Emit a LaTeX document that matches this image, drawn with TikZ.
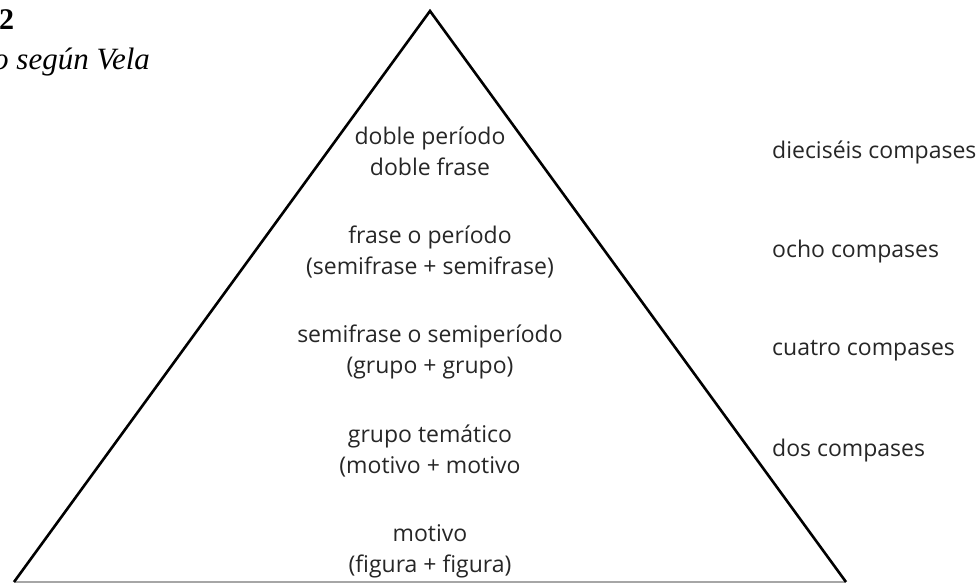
\documentclass[tikz,border=0pt]{standalone}
\usepackage{fontspec}
\setmainfont{Liberation Serif}
\newfontfamily\chalk{Open Sans}
\usetikzlibrary{positioning}

\begin{document}
\begin{tikzpicture}[x=1pt,y=-1pt,every node/.style={font=\chalk\fontsize{23}{31}\selectfont,text=black!85,inner sep=0pt}]
\useasboundingbox (0,0) rectangle (976,585);
% titulo, cortado por el borde
\node[font=\normalfont\bfseries\fontsize{30}{30}\selectfont,text=black,anchor=west] (num) at (-1,20) {2};
\node[font=\normalfont\itshape\fontsize{31}{31}\selectfont,text=black,anchor=west] (titulo) at (-7,62) {o según Vela};
% piramide
\coordinate (apex) at (430,11);
\coordinate (izq) at (14,582);
\coordinate (der) at (846,582);
\draw[gray!70,line width=1.5pt] (izq) -- (der);
\draw[black,line width=2.6pt] (izq) -- (apex) -- (der);
% niveles
\node[align=center] (dobleper) at (430,151) {doble período\\doble frase};
\node[align=center] (frase) at (430,252) {frase o período\\(semifrase + semifrase)};
\node[align=center] (semifrase) at (430,352) {semifrase o semiperíodo\\(grupo + grupo)};
\node[align=center] (grupo) at (430,451) {grupo temático\\(motivo + motivo};
\node[align=center] (motivo) at (430,551) {motivo\\(figura + figura)};
% compases
\node[anchor=west] (dieciseis) at (772,152) {dieciséis compases};
\node[anchor=west] (ocho) at (772,252) {ocho compases};
\node[anchor=west] (cuatro) at (772,351) {cuatro compases};
\node[anchor=west] (dos) at (772,451) {dos compases};
\end{tikzpicture}
\end{document}
